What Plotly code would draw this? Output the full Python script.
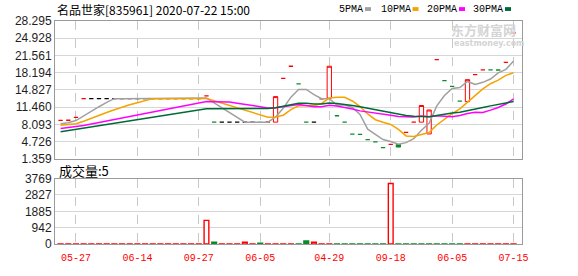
import plotly.graph_objects as go

# ---------------- data ----------------
positions = list(range(60))

closes = [8.88, 8.90, 9.44, 13.12, 13.12, 13.12, 13.12, 13.12, 13.12, 13.12,
          13.12, 13.12, 13.12, 13.12, 13.12, 13.12, 13.12, 13.12, 13.12, 13.66,
          8.53, 8.53, 8.53, 8.53, 8.53, 8.53, 8.50, 8.56, 13.52, 17.07,
          19.45, 15.99, 8.53, 8.53, 13.09, 19.45, 9.78, 8.53, 6.17, 6.15,
          5.10, 4.67, 3.54, 4.17, 3.66, 6.54, 8.53, 11.78, 10.90, 20.76,
          16.64, 15.52, 12.64, 16.83, 17.82, 18.76, 18.74, 18.72, 20.20, 25.99]

opens = [8.88, 8.90, 9.44, 13.12, 13.12, 13.12, 13.12, 13.12, 13.12, 13.12,
         13.12, 13.12, 13.12, 13.12, 13.12, 13.12, 13.12, 13.12, 13.12, 13.66,
         8.53, 8.53, 8.53, 8.53, 8.53, 8.53, 8.50, 8.56, 8.53, 17.07,
         19.45, 15.99, 8.53, 8.53, 13.09, 13.20, 9.78, 8.53, 6.17, 6.15,
         5.10, 4.67, 3.54, 4.17, 4.17, 6.54, 8.53, 8.53, 6.22, 20.76,
         16.64, 15.52, 12.64, 12.53, 17.82, 18.76, 18.74, 18.72, 20.20, 25.99]

volumes = [5, 5, 5, 5, 5, 5, 5, 5, 5, 5,
           5, 5, 5, 5, 5, 5, 5, 5, 5, 1360,
           110, 5, 5, 5, 100, 5, 50, 5, 5, 5,
           5, 5, 170, 100, 5, 5, 5, 5, 5, 5,
           5, 5, 5, 3490, 5, 5, 5, 5, 5, 5,
           5, 5, 5, 5, 5, 5, 5, 5, 5, 5]

# colour of each volume bar as seen in the reference (1 = red, 0 = green)
volume_red = [1, 1, 1, 1, 1, 1, 1, 1, 1, 1,
              1, 1, 1, 1, 1, 1, 1, 1, 1, 1,
              0, 1, 1, 1, 1, 1, 0, 1, 1, 1,
              1, 0, 0, 1, 1, 1, 0, 0, 0, 0,
              0, 0, 0, 1, 0, 0, 0, 0, 0, 0,
              0, 0, 0, 1, 1, 1, 1, 1, 1, 1]

ma5 = [8.22, 8.40, 8.84, 9.77, 10.69, 11.54, 12.38, 13.12, 13.12, 13.12,
       13.12, 13.12, 13.12, 13.12, 13.12, 13.12, 13.12, 13.12, 13.12, 13.23,
       12.31, 11.39, 10.47, 9.56, 8.53, 8.53, 8.52, 8.53, 9.53, 11.24,
       13.42, 14.92, 14.91, 13.91, 13.12, 13.12, 11.88, 11.88, 11.40, 10.02,
       7.15, 6.12, 5.13, 4.73, 4.23, 4.52, 5.29, 6.94, 8.28, 11.70,
       13.72, 15.12, 15.29, 16.48, 15.89, 16.31, 16.96, 18.17, 18.85, 20.48]

ma10 = [7.91, 8.04, 8.22, 8.71, 9.31, 9.87, 10.41, 10.94, 11.46, 11.91,
        12.33, 12.75, 13.12, 13.12, 13.12, 13.12, 13.12, 13.12, 13.12, 13.17,
        12.72, 12.26, 11.80, 11.34, 10.88, 10.42, 9.96, 9.50, 9.54, 9.88,
        10.98, 11.72, 11.72, 11.72, 12.18, 13.27, 13.40, 13.39, 12.66, 11.57,
        10.13, 9.00, 8.50, 8.07, 7.12, 5.83, 5.71, 6.03, 6.50, 7.97,
        9.12, 10.20, 11.11, 12.38, 13.80, 15.02, 16.04, 16.73, 17.66, 18.19]

ma20 = [7.30, 7.45, 7.60, 7.85, 8.15, 8.45, 8.75, 9.05, 9.35, 9.65,
        9.95, 10.25, 10.55, 10.85, 11.15, 11.45, 11.75, 12.05, 12.28, 12.54,
        12.52, 12.50, 12.46, 12.23, 12.00, 11.77, 11.54, 11.31, 11.33, 11.53,
        11.85, 11.99, 11.76, 11.53, 11.53, 11.84, 11.68, 11.45, 11.10, 10.73,
        10.55, 10.36, 10.11, 9.89, 9.65, 9.55, 9.55, 9.71, 9.58, 9.77,
        9.63, 9.60, 9.81, 10.22, 10.46, 10.42, 10.87, 11.38, 12.08, 13.08]

ma30 = [6.65, 6.89, 7.13, 7.38, 7.62, 7.86, 8.10, 8.34, 8.58, 8.83,
        9.07, 9.31, 9.55, 9.79, 10.03, 10.28, 10.52, 10.76, 11.00, 11.14,
        11.14, 11.13, 11.13, 11.12, 11.12, 11.13, 11.15, 11.19, 11.36, 11.65,
        12.01, 12.24, 12.21, 12.06, 12.06, 12.27, 12.16, 12.01, 11.77, 11.54,
        11.27, 10.99, 10.67, 10.37, 10.06, 9.84, 9.69, 9.64, 9.57, 9.81,
        10.08, 10.31, 10.45, 10.72, 11.03, 11.37, 11.71, 12.05, 12.28, 12.57]

date_tick_positions = [2, 10, 18, 26, 35, 43, 51, 59]
date_tick_labels = ["05-27", "06-14", "09-27", "06-05", "04-29", "09-18", "06-05", "07-15"]
price_ticks = [1.359, 4.726, 8.093, 11.460, 14.827, 18.194, 21.561, 24.928, 28.295]
volume_ticks = [0, 942, 1885, 2827, 3769]

title_text = "名品世家[835961] 2020-07-22 15:00"
volume_title = "成交量:5"
ma_names = ["5PMA", "10PMA", "20PMA", "30PMA"]

# ---------------- styles ----------------
RED = "#ff0000"
GREEN = "#0a8a2a"
BLACK = "#000000"
MA_COLORS = ["#a0a0a0", "#f5a300", "#ff00ff", "#006a35"]
GRID = "#d6d6d6"
BORDER = "#9a9a9a"

W, H = 578, 276
ML, MR, MT, MB = 55, 56, 21, 22
PW, PH = W - ML - MR, H - MT - MB


def px_x(px):
    return (px - ML) / PW


def px_y(py):
    return (H - MB - py) / PH


highs = [max(o, c) for o, c in zip(opens, closes)]
lows = [min(o, c) for o, c in zip(opens, closes)]


def kind(i):
    o, c = opens[i], closes[i]
    if c > o:
        return "up"
    if c < o:
        return "down"
    prev = closes[i - 1] if i > 0 else c - 1
    if c > prev:
        return "fup"
    if c < prev:
        return "fdown"
    return "flat"


kinds = [kind(i) for i in positions]

group_style = {
    "up": dict(line=RED, fill="#ffffff", width=1),
    "down": dict(line=GREEN, fill=GREEN, width=1),
    "fup": dict(line=RED, fill=RED, width=1.3),
    "fdown": dict(line=GREEN, fill=GREEN, width=1.3),
    "flat": dict(line=BLACK, fill=BLACK, width=1.3),
}

fig = go.Figure()

for g, st in group_style.items():
    ids = [i for i in positions if kinds[i] == g]
    if not ids:
        continue
    fig.add_trace(go.Candlestick(
        x=ids,
        open=[opens[i] for i in ids], high=[highs[i] for i in ids],
        low=[lows[i] for i in ids], close=[closes[i] for i in ids],
        increasing=dict(line=dict(color=st["line"], width=st["width"]), fillcolor=st["fill"]),
        decreasing=dict(line=dict(color=st["line"], width=st["width"]), fillcolor=st["fill"]),
        whiskerwidth=0, showlegend=False, hoverinfo="skip",
        xaxis="x", yaxis="y",
    ))

for vals, col in zip([ma5, ma10, ma20, ma30], MA_COLORS):
    fig.add_trace(go.Scatter(x=positions, y=vals, mode="lines",
                             line=dict(color=col, width=1.5),
                             showlegend=False, hoverinfo="skip",
                             xaxis="x", yaxis="y"))

vol_fill = ["#ffffff" if r else GREEN for r in volume_red]
vol_line = [RED if r else GREEN for r in volume_red]
fig.add_trace(go.Bar(x=positions, y=volumes,
                     marker=dict(color=vol_fill, line=dict(color=vol_line, width=1.4)),
                     showlegend=False, hoverinfo="skip",
                     xaxis="x2", yaxis="y2"))

xr = [-0.73, 60.1]
common_x = dict(range=xr, tickvals=date_tick_positions, showgrid=True,
                gridcolor="#c8c8c8", griddash="dash", gridwidth=1,
                showline=True, mirror=True, linecolor=BORDER, linewidth=1,
                zeroline=False, fixedrange=True)
tick_font = dict(family="Liberation Sans, Arial, sans-serif", size=12, color="#1e1e1e")

fig.update_layout(
    width=W, height=H, margin=dict(l=ML, r=MR, t=MT, b=MB),
    paper_bgcolor="white", plot_bgcolor="white",
    boxgap=0.2, bargap=0.38,
    xaxis=dict(**common_x, anchor="y", showticklabels=False,
               rangeslider=dict(visible=False)),
    xaxis2=dict(**common_x, anchor="y2", ticktext=date_tick_labels,
                ticks="outside", ticklen=4, tickcolor="rgba(0,0,0,0)",
                tickfont=dict(family="Liberation Mono, DejaVu Sans Mono, monospace",
                              size=10, color=RED)),
    yaxis=dict(domain=[px_y(165), 1], range=[price_ticks[0], price_ticks[-1]],
               tickvals=price_ticks, ticktext=["%.3f" % v for v in price_ticks],
               showgrid=True, gridcolor=GRID, gridwidth=1, zeroline=False,
               showline=True, mirror=True, linecolor=BORDER, linewidth=1,
               tickfont=tick_font, fixedrange=True),
    yaxis2=dict(domain=[0, px_y(185.7)], range=[0, volume_ticks[-1]],
                tickvals=volume_ticks, ticktext=[str(v) for v in volume_ticks],
                showgrid=True, gridcolor=GRID, gridwidth=1, zeroline=False,
                showline=True, mirror=True, linecolor=BORDER, linewidth=1,
                tickfont=tick_font, fixedrange=True),
)

annotations = [
    dict(text=title_text, x=px_x(55), y=px_y(8.5), xanchor="left", yanchor="middle",
         font=dict(family="Noto Sans CJK SC", size=12, color="#000")),
    dict(text=volume_title, x=px_x(57), y=px_y(177), xanchor="left", yanchor="middle",
         font=dict(family="Noto Sans CJK SC", size=13, color="#000")),
    dict(text="<b>东方财富网</b>", x=px_x(449), y=px_y(29.5), xanchor="left", yanchor="middle",
         font=dict(family="Noto Sans CJK SC", size=13, color="#d4d4d4")),
    dict(text="<b>eastmoney.com</b>", x=px_x(452), y=px_y(45), xanchor="left", yanchor="middle",
         font=dict(family="DejaVu Sans", size=8, color="#d4d4d4")),
]
legend_text_x = [337, 379, 425, 471]
legend_box_x = [365, 412.5, 459, 505]
shapes = []
for name, tx, bx, col in zip(ma_names, legend_text_x, legend_box_x, MA_COLORS):
    annotations.append(dict(text=name, x=px_x(tx), y=px_y(8.5), xanchor="left", yanchor="middle",
                            font=dict(family="Liberation Mono, monospace", size=10, color="#000")))
    shapes.append(dict(type="rect", xref="paper", yref="paper",
                       x0=px_x(bx), x1=px_x(bx + 6), y0=px_y(10.5), y1=px_y(6.5),
                       fillcolor=col, line=dict(width=0)))
for a in annotations:
    a.update(xref="paper", yref="paper", showarrow=False)
fig.update_layout(annotations=annotations, shapes=shapes)

fig.write_html("out.html")
